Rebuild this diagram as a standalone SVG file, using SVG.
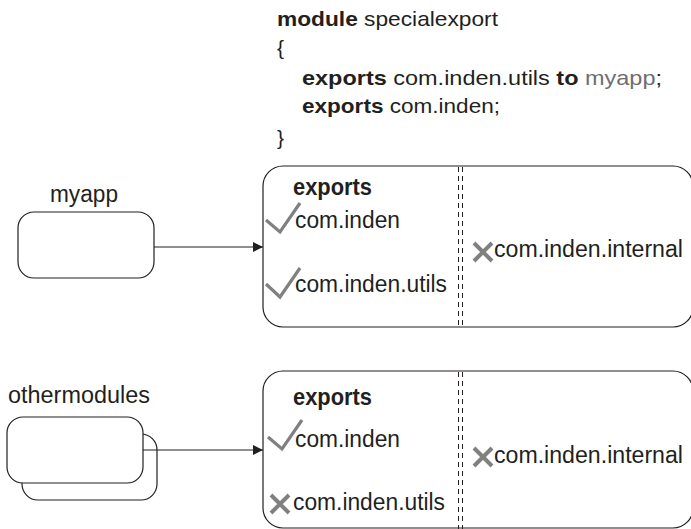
<svg xmlns="http://www.w3.org/2000/svg" width="691" height="529" viewBox="0 0 691 529">
<style>
text{font-family:"Liberation Sans",Arial,sans-serif;fill:#231f20}
.code{font-size:21px}
.lbl{font-size:23px}
.b{font-weight:bold}
.g{fill:#6d6e71}
.box{fill:#fff;stroke:#231f20;stroke-width:1.2}
.mod{fill:#fff;stroke:#231f20;stroke-width:1.2}
.sep{stroke:#231f20;stroke-width:1;stroke-dasharray:5 4}
.ok{fill:none;stroke:#808080;stroke-width:3.2}
.no{fill:none;stroke:#808080;stroke-width:4}
.conn{stroke:#231f20;stroke-width:1.2;fill:none}
</style>
<defs>
<marker id="ah" viewBox="0 0 10 10" refX="10" refY="5" markerWidth="10" markerHeight="10" markerUnits="userSpaceOnUse" orient="auto">
<path d="M0,0 L10,5 L0,10 z" fill="#231f20"/>
</marker>
</defs>

<g id="code">
<text class="code" x="277" y="26" textLength="221" lengthAdjust="spacingAndGlyphs"><tspan class="b">module</tspan> specialexport</text>
<text class="code" x="277" y="55">{</text>
<text class="code" x="302" y="85" textLength="360" lengthAdjust="spacingAndGlyphs"><tspan class="b">exports</tspan> com.inden.utils <tspan class="b">to</tspan> <tspan class="g">myapp</tspan>;</text>
<text class="code" x="302" y="113" textLength="198" lengthAdjust="spacingAndGlyphs"><tspan class="b">exports</tspan> com.inden;</text>
<text class="code" x="277" y="145">}</text>
</g>

<g id="myapp">
<text class="lbl" x="50" y="202" textLength="68" lengthAdjust="spacingAndGlyphs">myapp</text>
<rect class="box" x="18" y="212" width="136" height="66" rx="16"/>
</g>

<g id="othermodules">
<text class="lbl" x="8" y="403" textLength="142" lengthAdjust="spacingAndGlyphs">othermodules</text>
<rect class="box" x="22" y="434" width="135" height="66" rx="16"/>
<rect class="box" x="7" y="417" width="136" height="66" rx="16"/>
</g>

<g id="specialexport-myapp">
<rect class="mod" x="263" y="166" width="430" height="161" rx="20"/>
<line class="sep" x1="458.5" y1="167" x2="458.5" y2="327"/>
<line class="sep" x1="462.5" y1="167" x2="462.5" y2="327"/>
<text class="lbl b" x="293" y="195" textLength="79" lengthAdjust="spacingAndGlyphs">exports</text>
<polyline class="ok" points="266,220 280,232 300,203"/>
<text class="lbl" x="295" y="228" textLength="105" lengthAdjust="spacingAndGlyphs">com.inden</text>
<polyline class="ok" points="266,284 280,297 300,268"/>
<text class="lbl" x="295" y="292" textLength="152" lengthAdjust="spacingAndGlyphs">com.inden.utils</text>
<path class="no" d="M474,243 L492,261 M492,243 L474,261"/>
<text class="lbl" x="494" y="257" textLength="189" lengthAdjust="spacingAndGlyphs">com.inden.internal</text>
</g>

<g id="specialexport-others">
<rect class="mod" x="263" y="371" width="430" height="157" rx="20"/>
<line class="sep" x1="458.5" y1="372" x2="458.5" y2="529"/>
<line class="sep" x1="462.5" y1="372" x2="462.5" y2="529"/>
<text class="lbl b" x="293" y="405" textLength="79" lengthAdjust="spacingAndGlyphs">exports</text>
<polyline class="ok" points="268,437 282,449 302,420"/>
<text class="lbl" x="295" y="447" textLength="105" lengthAdjust="spacingAndGlyphs">com.inden</text>
<path class="no" d="M271,495 L289,513 M289,495 L271,513"/>
<text class="lbl" x="293" y="510" textLength="152" lengthAdjust="spacingAndGlyphs">com.inden.utils</text>
<path class="no" d="M474,448 L492,466 M492,448 L474,466"/>
<text class="lbl" x="494" y="463" textLength="189" lengthAdjust="spacingAndGlyphs">com.inden.internal</text>
</g>

<g id="connectors">
<line class="conn" x1="154" y1="247" x2="263" y2="247" marker-end="url(#ah)"/>
<line class="conn" x1="143" y1="450" x2="263" y2="450" marker-end="url(#ah)"/>
</g>
</svg>
